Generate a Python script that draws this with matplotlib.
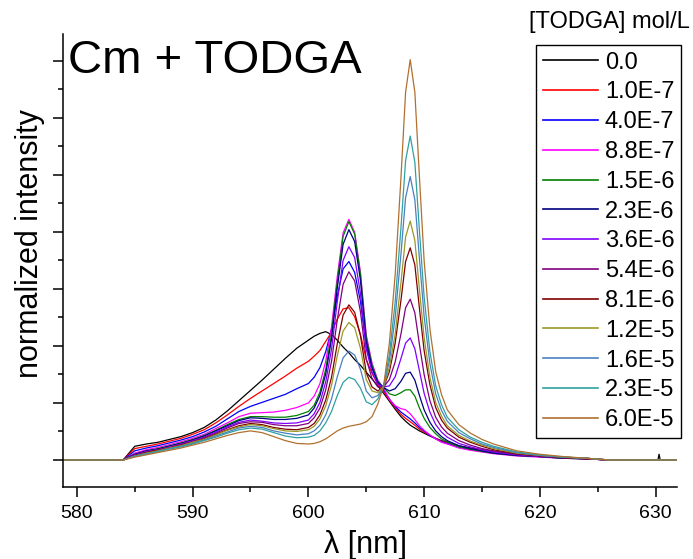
import matplotlib

matplotlib.use("Agg")
import matplotlib.pyplot as plt
from matplotlib.ticker import MultipleLocator

plt.rcParams["font.family"] = ["Liberation Sans", "DejaVu Sans"]

# --- data ------------------------------------------------------------------------------

wavelength = [578.8, 584.0, 585, 586, 587, 588, 589, 590, 591, 592, 593, 594, 595, 596, 597,
              598, 599, 600, 600.5, 601, 601.5, 602, 602.5, 603, 603.5, 604, 604.5, 605,
              605.5, 606, 606.5, 607, 607.5, 608, 608.4, 608.8, 609.2, 609.6, 610, 610.5,
              611, 611.5, 612, 613, 614, 615, 616, 618, 620, 622, 624, 626,
              630.2, 630.3, 630.4, 631.8]

i_0 = [0, 0, 0.24, 0.28, 0.31, 0.36, 0.41, 0.48, 0.57, 0.70, 0.86, 1.04, 1.22, 1.40, 1.59, 1.78,
       1.96, 2.10, 2.17, 2.22, 2.25, 2.20, 2.10, 1.98, 1.88, 1.76, 1.66, 1.54, 1.42, 1.30, 1.17,
       1.03, 0.89, 0.76, 0.68, 0.61, 0.56, 0.51, 0.47, 0.42, 0.38, 0.34, 0.31, 0.25, 0.21, 0.18,
       0.15, 0.10, 0.07, 0.05, 0.03, 0, 0, 0.10, 0, 0]
i_1e7 = [0, 0, 0.20, 0.24, 0.28, 0.33, 0.38, 0.45, 0.53, 0.65, 0.79, 0.94, 1.08, 1.21, 1.34, 1.47,
         1.61, 1.73, 1.82, 1.92, 2.08, 2.24, 2.47, 2.65, 2.67, 2.51, 2.20, 1.76, 1.52, 1.33, 1.20,
         1.05, 0.92, 0.80, 0.73, 0.67, 0.61, 0.54, 0.49, 0.43, 0.38, 0.33, 0.30, 0.24, 0.20, 0.17,
         0.14, 0.09, 0.06, 0.04, 0.03, 0, 0, 0, 0, 0]
i_4e7 = [0, 0, 0.16, 0.21, 0.25, 0.30, 0.35, 0.41, 0.49, 0.59, 0.72, 0.85, 0.94, 1.01, 1.08, 1.15,
         1.25, 1.34, 1.45, 1.62, 1.90, 2.29, 2.87, 3.35, 3.48, 3.29, 2.78, 1.99, 1.61, 1.37, 1.23,
         1.07, 0.94, 0.84, 0.78, 0.72, 0.65, 0.57, 0.51, 0.43, 0.37, 0.32, 0.29, 0.22, 0.18, 0.15,
         0.12, 0.08, 0.06, 0.04, 0.02, 0, 0, 0, 0, 0]
i_8_8e7 = [0, 0, 0.12, 0.18, 0.22, 0.27, 0.32, 0.38, 0.45, 0.55, 0.65, 0.76, 0.82, 0.83, 0.84, 0.87,
           0.92, 1.00, 1.12, 1.34, 1.73, 2.33, 3.22, 3.98, 4.22, 3.99, 3.29, 2.19, 1.70, 1.40, 1.26,
           1.06, 0.95, 0.90, 0.88, 0.81, 0.71, 0.60, 0.52, 0.44, 0.37, 0.31, 0.28, 0.21, 0.17, 0.14,
           0.11, 0.07, 0.05, 0.03, 0.02, 0, 0, 0, 0, 0]
i_1_5e6 = [0, 0, 0.10, 0.16, 0.20, 0.25, 0.30, 0.36, 0.43, 0.52, 0.62, 0.71, 0.76, 0.76, 0.75, 0.75,
           0.78, 0.85, 0.96, 1.19, 1.59, 2.21, 3.13, 3.92, 4.18, 3.96, 3.25, 2.15, 1.66, 1.38, 1.27,
           1.16, 1.13, 1.18, 1.23, 1.23, 1.12, 0.91, 0.73, 0.57, 0.46, 0.37, 0.32, 0.23, 0.19, 0.15,
           0.12, 0.08, 0.06, 0.03, 0.02, 0, 0, 0, 0, 0]
i_2_3e6 = [0, 0, 0.10, 0.16, 0.19, 0.24, 0.29, 0.35, 0.42, 0.51, 0.60, 0.69, 0.74, 0.73, 0.71, 0.71,
           0.73, 0.79, 0.91, 1.13, 1.51, 2.12, 3.02, 3.78, 4.04, 3.83, 3.15, 2.08, 1.62, 1.36, 1.27,
           1.21, 1.25, 1.38, 1.52, 1.54, 1.40, 1.13, 0.88, 0.66, 0.51, 0.41, 0.34, 0.25, 0.20, 0.16,
           0.12, 0.08, 0.06, 0.03, 0.02, 0, 0, 0, 0, 0]
i_3_6e6 = [0, 0, 0.09, 0.15, 0.18, 0.23, 0.28, 0.34, 0.40, 0.49, 0.58, 0.66, 0.70, 0.68, 0.65, 0.64,
           0.65, 0.70, 0.81, 1.01, 1.37, 1.94, 2.78, 3.50, 3.74, 3.55, 2.92, 1.95, 1.54, 1.33, 1.28,
           1.30, 1.46, 1.78, 2.05, 2.14, 1.95, 1.56, 1.17, 0.84, 0.62, 0.49, 0.40, 0.29, 0.23, 0.18,
           0.14, 0.09, 0.06, 0.04, 0.02, 0, 0, 0, 0, 0]
i_5_4e6 = [0, 0, 0.08, 0.14, 0.18, 0.22, 0.27, 0.33, 0.39, 0.47, 0.56, 0.64, 0.67, 0.66, 0.62, 0.60,
           0.60, 0.64, 0.74, 0.91, 1.23, 1.73, 2.46, 3.08, 3.30, 3.14, 2.60, 1.77, 1.43, 1.28, 1.28,
           1.41, 1.72, 2.21, 2.67, 2.82, 2.58, 2.02, 1.50, 1.04, 0.75, 0.58, 0.47, 0.34, 0.26, 0.20,
           0.16, 0.10, 0.07, 0.04, 0.02, 0, 0, 0, 0, 0]
i_8_1e6 = [0, 0, 0.08, 0.13, 0.17, 0.21, 0.26, 0.31, 0.37, 0.45, 0.53, 0.60, 0.64, 0.62, 0.57, 0.54,
           0.53, 0.57, 0.64, 0.79, 1.05, 1.45, 2.04, 2.54, 2.72, 2.59, 2.18, 1.53, 1.28, 1.21, 1.28,
           1.55, 2.05, 2.80, 3.48, 3.72, 3.42, 2.65, 1.92, 1.32, 0.92, 0.70, 0.56, 0.40, 0.31, 0.24,
           0.18, 0.11, 0.07, 0.04, 0.02, 0, 0, 0, 0, 0]
i_1_2e5 = [0, 0, 0.07, 0.12, 0.16, 0.21, 0.25, 0.31, 0.36, 0.44, 0.52, 0.58, 0.62, 0.60, 0.55, 0.51,
           0.50, 0.53, 0.59, 0.72, 0.95, 1.31, 1.83, 2.26, 2.41, 2.32, 1.96, 1.41, 1.21, 1.18, 1.29,
           1.62, 2.21, 3.11, 3.91, 4.19, 3.85, 2.98, 2.15, 1.45, 1.01, 0.77, 0.60, 0.43, 0.33, 0.26,
           0.20, 0.12, 0.08, 0.05, 0.03, 0, 0, 0, 0, 0]
i_1_6e5 = [0, 0, 0.07, 0.11, 0.15, 0.20, 0.24, 0.29, 0.35, 0.42, 0.49, 0.56, 0.59, 0.57, 0.51, 0.47,
           0.44, 0.46, 0.51, 0.61, 0.79, 1.07, 1.46, 1.79, 1.91, 1.84, 1.59, 1.21, 1.09, 1.13, 1.29,
           1.74, 2.50, 3.61, 4.60, 4.97, 4.56, 3.52, 2.52, 1.69, 1.16, 0.87, 0.68, 0.48, 0.37, 0.28,
           0.22, 0.13, 0.08, 0.05, 0.03, 0, 0, 0, 0, 0]
i_2_3e5 = [0, 0, 0.06, 0.10, 0.15, 0.19, 0.23, 0.28, 0.34, 0.40, 0.47, 0.53, 0.56, 0.54, 0.48, 0.42,
           0.39, 0.40, 0.43, 0.51, 0.65, 0.85, 1.13, 1.36, 1.45, 1.41, 1.26, 1.02, 0.97, 1.07, 1.29,
           1.85, 2.77, 4.07, 5.25, 5.68, 5.22, 4.01, 2.86, 1.90, 1.30, 0.97, 0.75, 0.53, 0.40, 0.31,
           0.24, 0.14, 0.09, 0.05, 0.03, 0, 0, 0, 0, 0]
i_6e5 = [0, 0, 0.05, 0.09, 0.13, 0.17, 0.21, 0.26, 0.31, 0.37, 0.43, 0.48, 0.51, 0.48, 0.41, 0.34,
         0.29, 0.28, 0.29, 0.32, 0.37, 0.44, 0.51, 0.56, 0.59, 0.61, 0.63, 0.67, 0.76, 0.98, 1.30,
         2.05, 3.25, 4.95, 6.45, 7.02, 6.45, 4.95, 3.50, 2.30, 1.55, 1.15, 0.88, 0.62, 0.47, 0.36,
         0.28, 0.16, 0.10, 0.06, 0.03, 0, 0, 0, 0, 0]

labels = ["0.0", "1.0E-7", "4.0E-7", "8.8E-7", "1.5E-6", "2.3E-6", "3.6E-6",
          "5.4E-6", "8.1E-6", "1.2E-5", "1.6E-5", "2.3E-5", "6.0E-5"]
series = [i_0, i_1e7, i_4e7, i_8_8e7, i_1_5e6, i_2_3e6, i_3_6e6,
          i_5_4e6, i_8_1e6, i_1_2e5, i_1_6e5, i_2_3e5, i_6e5]
colors = ["#000000", "#ff0000", "#0000ff", "#ff00ff", "#008000", "#000080", "#8000ff",
          "#800080", "#800000", "#999926", "#4a80c0", "#30a0a0", "#b07030"]

# --- figure -------------------------------------------------------------------------------

fig = plt.figure(figsize=(6.93, 5.59), dpi=100)
ax = fig.add_axes([63 / 693, 72 / 559, 614 / 693, 453 / 559])

for y, lab, col in zip(series, labels, colors):
    ax.plot(wavelength, y, color=col, lw=0.9, label=lab)

ax.set_xlim(578.8, 631.85)
ax.set_ylim(-0.474, 7.47)
ax.xaxis.set_major_locator(MultipleLocator(10))
ax.xaxis.set_minor_locator(MultipleLocator(5))
ax.yaxis.set_major_locator(MultipleLocator(1))
ax.yaxis.set_minor_locator(MultipleLocator(0.5))
ax.tick_params(which="major", length=7, width=1.1, labelsize=14, pad=6)
ax.tick_params(which="minor", length=3.5, width=1.1)
ax.tick_params(axis="y", labelleft=False)
for side in ("top", "right"):
    ax.spines[side].set_visible(False)
for side in ("left", "bottom"):
    ax.spines[side].set_linewidth(1.1)

fig.text(30 / 693, 1 - 244 / 559, "normalized intensity", rotation=90,
         ha="center", va="center", fontsize=22)
fig.text(366 / 693, 1 - 545 / 559, "λ [nm]", ha="center", va="center", fontsize=22)
fig.text(68 / 693, 1 - 73 / 559, "Cm + TODGA", ha="left", va="baseline", fontsize=34)

fig.text(690 / 693, 1 - 22 / 559, "[TODGA] mol/L", ha="right", va="center", fontsize=17)
leg = ax.legend(loc="upper right", bbox_to_anchor=(681 / 693, 1 - 45 / 559),
                bbox_transform=fig.transFigure, borderaxespad=0, fontsize=17,
                handlelength=2.33, handletextpad=0.3, labelspacing=0.33, borderpad=0.28,
                fancybox=False, framealpha=1, edgecolor="black")
leg.get_frame().set_linewidth(1.0)
for line in leg.get_lines():
    line.set_linewidth(1.2)

fig.savefig("out.png", dpi=100)
